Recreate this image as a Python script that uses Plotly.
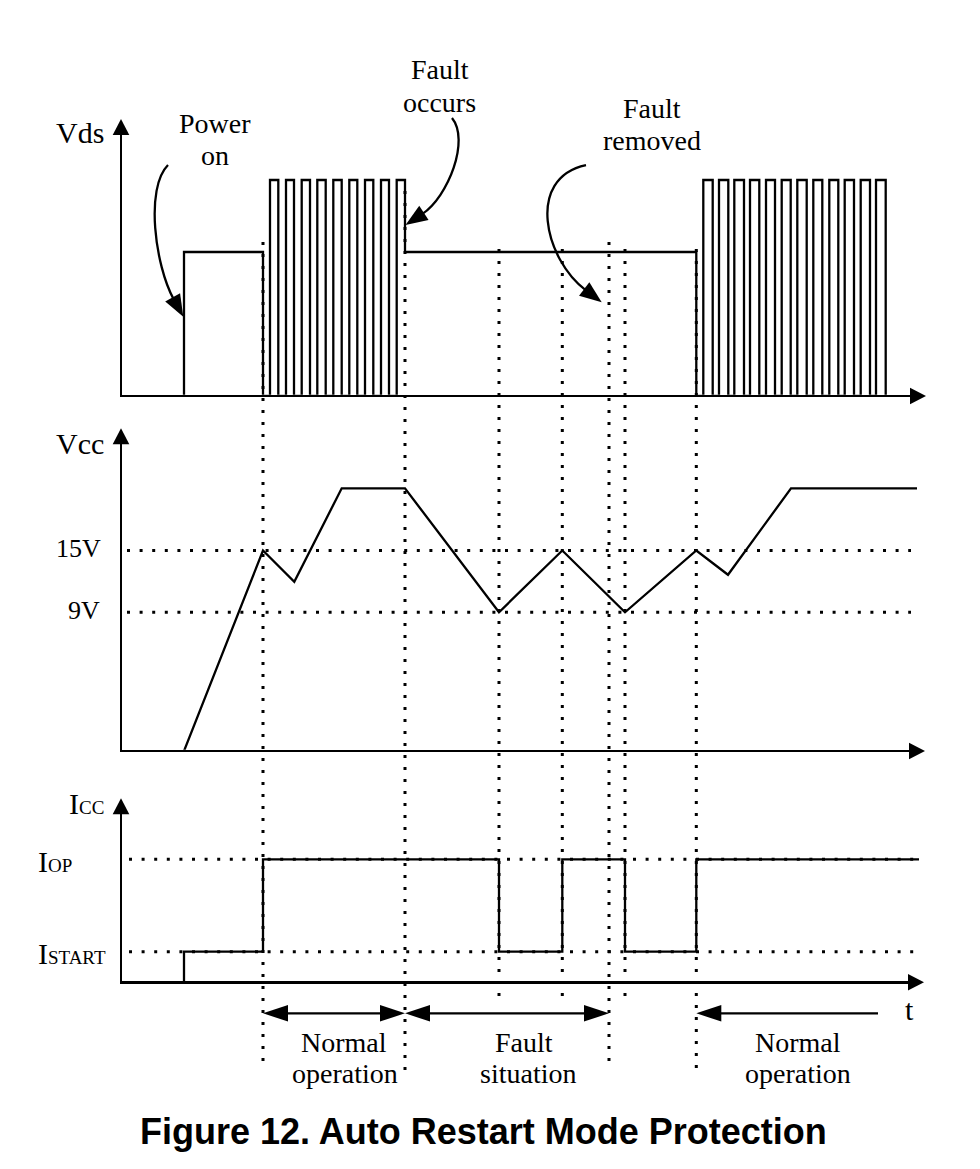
import plotly.graph_objects as go

FIG_W, FIG_H = 980, 1169

# ------------------------------------------------------------------ data
# time in diagram units (0 = origin of the t axis)
POWER_ON_T = 63.0
SWITCH_ON_T = 142.0       # Vcc reaches 15 V -> switching starts
FAULT_T = 284.0           # fault occurs
VCC_LOW1_T = 378.0
VCC_HIGH1_T = 441.3
FAULT_REMOVED_T = 488.0
VCC_LOW2_T = 504.0
RESTART_T = 575.3

# Vds (relative levels)
VDS_LOW, VDS_DC, VDS_PEAK = 0.0, 1.0, 1.5
burst1_rise = [149.0, 165.0, 180.7, 196.3, 212.3, 228.3, 244.0, 260.0, 275.7]
burst1_fall = [157.3, 173.0, 189.0, 204.7, 220.7, 236.3, 252.3, 268.0, 284.0]
burst2_rise = [582.3, 598.0, 613.3, 629.0, 645.0, 660.7, 676.3, 692.3, 708.3, 723.7, 739.7, 755.0]
burst2_fall = [591.7, 607.3, 623.0, 638.3, 654.0, 669.7, 685.7, 701.3, 717.3, 733.0, 749.0, 764.7]

# Vcc (relative to the 15 V level)
VCC_15V, VCC_9V = 1.0, 0.692
vcc_t = [63.0, 142.0, 173.3, 220.7, 284.0, 378.0, 441.3, 504.0, 575.3, 607.0, 670.0, 796.0]
vcc_v = [0.0, 1.0, 0.844, 1.31, 1.31, 0.692, 1.0, 0.692, 1.0, 0.879, 1.31, 1.31]
vcc_ref_levels = [VCC_15V, VCC_9V]
vcc_ref_labels = ["15V", "9V"]

# Icc (relative to Iop)
ICC_OP, ICC_START = 1.0, 0.249
icc_t = [63.0, 63.0, 142.0, 378.0, 441.3, 504.0, 575.3, 804.0]
icc_v = [0.0, ICC_START, ICC_OP, ICC_START, ICC_OP, ICC_START, ICC_OP, ICC_OP]
icc_ref_levels = [ICC_OP, ICC_START]
icc_ref_labels = ["I<span style='font-size:19px'>OP</span>",
                  "I<span style='font-size:19px'>START</span>"]

# vertical event markers
event_t = [142.0, 284.0, 378.0, 441.3, 488.0, 504.0, 575.3]

# operating phase spans along the time axis
span_start = [142.0, 284.0, 575.3]
span_end = [284.0, 488.0, 757.0]
span_heads = ["both", "both", "left"]
span_labels = [["Normal", "operation"], ["Fault", "situation"], ["Normal", "operation"]]

TITLE = "Figure 12. Auto Restart Mode Protection"

# ------------------------------------------------------------------ geometry (px)
AX_X = 121.0
LW = 2.4
TRACE_W = 2.3
panels = [
    dict(name="vds", base=396.0, top=119.0, ppu=144.0, tip=926.0),
    dict(name="vcc", base=751.0, top=428.3, ppu=200.5, tip=925.0),
    dict(name="icc", base=982.3, top=798.3, ppu=123.0, tip=924.0),
]
SERIF = "Liberation Serif, Times New Roman, serif"


def px(x):
    return x / FIG_W


def py(y):
    return 1 - y / FIG_H


def tri_path(tip, d, L, hw):
    bx, by = tip[0] - L * d[0], tip[1] - L * d[1]
    nx, ny = -d[1], d[0]
    c1 = (bx + hw * nx, by + hw * ny)
    c2 = (bx - hw * nx, by - hw * ny)
    pts = [tip, c1, c2]
    return "M" + " L".join(f"{px(a):.5f},{py(b):.5f}" for a, b in pts) + " Z"


def unit(dx, dy):
    n = (dx * dx + dy * dy) ** 0.5
    return dx / n, dy / n


fig = go.Figure()
shapes = []
annotations = []

# ------------------------------------------------------------------ axes
layout_axes = {}
for i, p in enumerate(panels, start=1):
    xs = "" if i == 1 else str(i)
    dom_right = p["tip"] - 5
    layout_axes[f"xaxis{xs}"] = dict(
        domain=[px(AX_X + LW / 2), px(dom_right)],
        range=[LW / 2, dom_right - AX_X],
        anchor=f"y{xs}", showline=True, linewidth=LW, linecolor="black",
        showgrid=False, zeroline=False, showticklabels=False, ticks="",
        fixedrange=True,
    )
    dom_top = p["top"] + 5
    layout_axes[f"yaxis{xs}"] = dict(
        domain=[py(p["base"] - LW / 2), py(dom_top)],
        range=[(LW / 2) / p["ppu"], (p["base"] - dom_top) / p["ppu"]],
        anchor=f"x{xs}", showline=True, linewidth=LW, linecolor="black",
        showgrid=False, zeroline=False, showticklabels=False, ticks="",
        fixedrange=True,
    )
    # arrow heads of the axes
    shapes.append(dict(type="path", xref="paper", yref="paper",
                       path=tri_path((AX_X, p["top"]), (0, -1), 16, 8.3),
                       fillcolor="black", line=dict(width=0)))
    shapes.append(dict(type="path", xref="paper", yref="paper",
                       path=tri_path((p["tip"], p["base"]), (1, 0), 16, 8.3),
                       fillcolor="black", line=dict(width=0)))

# ------------------------------------------------------------------ traces
# Vds
vds_t = [POWER_ON_T, POWER_ON_T, SWITCH_ON_T]
vds_v = [VDS_LOW, VDS_DC, VDS_LOW]
for r, f in zip(burst1_rise, burst1_fall):
    vds_t += [r, f]
    vds_v += [VDS_PEAK, VDS_LOW]
vds_v[-1] = VDS_DC          # fault: switching stops, drain sits at DC level
vds_t.append(RESTART_T)
vds_v.append(VDS_LOW)
for r, f in zip(burst2_rise, burst2_fall):
    vds_t += [r, f]
    vds_v += [VDS_PEAK, VDS_LOW]

fig.add_trace(go.Scatter(x=vds_t, y=vds_v, mode="lines", line_shape="hv",
                         line=dict(color="black", width=TRACE_W),
                         xaxis="x", yaxis="y", showlegend=False, hoverinfo="skip"))

# Vcc reference levels + trace
for lvl in vcc_ref_levels:
    fig.add_trace(go.Scatter(x=[6, 790], y=[lvl, lvl], mode="lines",
                             line=dict(color="black", width=3, dash="3px,9.6px"),
                             xaxis="x2", yaxis="y2", showlegend=False, hoverinfo="skip"))
fig.add_trace(go.Scatter(x=vcc_t, y=vcc_v, mode="lines",
                         line=dict(color="black", width=TRACE_W),
                         xaxis="x2", yaxis="y2", showlegend=False, hoverinfo="skip"))

# Icc reference levels + trace
for lvl in icc_ref_levels:
    fig.add_trace(go.Scatter(x=[8, 804], y=[lvl, lvl], mode="lines",
                             line=dict(color="black", width=3, dash="3px,9.6px"),
                             xaxis="x3", yaxis="y3", showlegend=False, hoverinfo="skip"))
fig.add_trace(go.Scatter(x=icc_t, y=icc_v, mode="lines", line_shape="hv",
                         line=dict(color="black", width=TRACE_W),
                         xaxis="x3", yaxis="y3", showlegend=False, hoverinfo="skip"))

# ------------------------------------------------------------------ event markers
marker_top = [242, 191, 249, 249, 242, 249, 249]
marker_bot = [1063, 1073, 1002, 1002, 1063, 1002, 1072]
for t, y0, y1 in zip(event_t, marker_top, marker_bot):
    shapes.append(dict(type="line", xref="x", yref="paper", x0=t, x1=t,
                       y0=py(y0), y1=py(y1),
                       line=dict(color="black", width=3, dash="3px,9px")))

# ------------------------------------------------------------------ phase spans
SPAN_Y = 1013.3
for s, e, heads in zip(span_start, span_end, span_heads):
    xs_px, xe_px = AX_X + s, AX_X + e
    shapes.append(dict(type="line", xref="paper", yref="paper",
                       x0=px(xs_px + 10), x1=px(xe_px - (10 if heads == "both" else 0)),
                       y0=py(SPAN_Y), y1=py(SPAN_Y),
                       line=dict(color="black", width=TRACE_W)))
    shapes.append(dict(type="path", xref="paper", yref="paper",
                       path=tri_path((xs_px, SPAN_Y), (-1, 0), 25, 8.3),
                       fillcolor="black", line=dict(width=0)))
    if heads == "both":
        shapes.append(dict(type="path", xref="paper", yref="paper",
                           path=tri_path((xe_px, SPAN_Y), (1, 0), 25, 8.3),
                           fillcolor="black", line=dict(width=0)))

span_text_x = [[344.0, 345.0], [524.0, 527.5], [797.5, 798.0]]
for (l1, l2), (x1, x2) in zip(span_labels, span_text_x):
    annotations.append(dict(text=l1, x=px(x1), y=py(1042.2)))
    annotations.append(dict(text=l2, x=px(x2), y=py(1073.8)))

# ------------------------------------------------------------------ callouts
callouts = [
    # (start, c1, c2, tip, head_dir)
    ((168.0, 165.0), (145.0, 188.0), (155.0, 265.0), (183.3, 316.7), unit(16.6, 30.0)),
    ((452.0, 118.0), (470.0, 140.0), (448.5, 196.5), (405.5, 225.0), unit(-0.836, 0.548)),
    ((586.0, 165.0), (525.0, 178.0), (545.0, 260.0), (601.7, 302.3), unit(0.796, 0.606)),
]
HEAD_L, HEAD_HW = 22.0, 8.5
for p0, c1, c2, tip, d in callouts:
    base = (tip[0] - HEAD_L * d[0] * 0.9, tip[1] - HEAD_L * d[1] * 0.9)
    path = (f"M{px(p0[0]):.5f},{py(p0[1]):.5f} C{px(c1[0]):.5f},{py(c1[1]):.5f} "
            f"{px(c2[0]):.5f},{py(c2[1]):.5f} {px(base[0]):.5f},{py(base[1]):.5f}")
    shapes.append(dict(type="path", xref="paper", yref="paper", path=path,
                       line=dict(color="black", width=TRACE_W), fillcolor="rgba(0,0,0,0)"))
    shapes.append(dict(type="path", xref="paper", yref="paper",
                       path=tri_path(tip, d, HEAD_L, HEAD_HW),
                       fillcolor="black", line=dict(width=0)))

callout_text = [("Power", 215.0, 123.2), ("on", 215.0, 155.5),
                ("Fault", 440.0, 69.8), ("occurs", 439.0, 102.2),
                ("Fault", 651.7, 108.8), ("removed", 651.7, 140.5)]
for txt, x, y in callout_text:
    annotations.append(dict(text=txt, x=px(x), y=py(y)))

# defaults for the serif texts so far
for a in annotations:
    a.update(xref="paper", yref="paper", xanchor="center", yanchor="middle",
             showarrow=False, font=dict(family=SERIF, size=28, color="black"))

# ------------------------------------------------------------------ axis labels
axis_labels = [("V<span>ds</span>", 132.5), ("V<span>cc</span>", 443.1),
               ("I<span style='font-size:19px'>CC</span>", 803.1)]
for txt, y in axis_labels:
    annotations.append(dict(text=txt, xref="paper", yref="paper", x=px(105.5), y=py(y),
                            xanchor="right", yanchor="middle", showarrow=False,
                            font=dict(family=SERIF, size=30, color="black")))

vcc_label_right = [103.3, 101.7]
for lvl, lab, xr in zip(vcc_ref_levels, vcc_ref_labels, vcc_label_right):
    annotations.append(dict(text=lab, xref="paper", yref="y2", x=px(xr), y=lvl,
                            yshift=2, xanchor="right", yanchor="middle", showarrow=False,
                            font=dict(family=SERIF, size=26, color="black")))

for lvl, lab in zip(icc_ref_levels, icc_ref_labels):
    annotations.append(dict(text=lab, xref="paper", yref="y3", x=px(35.5), y=lvl,
                            yshift=-2, xanchor="left", yanchor="middle", showarrow=False,
                            font=dict(family=SERIF, size=30, color="black")))

annotations.append(dict(text="t", xref="paper", yref="paper", x=px(909), y=py(1009.8),
                        xanchor="center", yanchor="middle", showarrow=False,
                        font=dict(family=SERIF, size=30, color="black")))

annotations.append(dict(text=f"<b>{TITLE}</b>", xref="paper", yref="paper",
                        x=px(483.5), y=py(1131), xanchor="center", yanchor="middle",
                        showarrow=False,
                        font=dict(family="Liberation Sans, Arial, sans-serif", size=36,
                                  color="black")))

fig.update_layout(
    width=FIG_W, height=FIG_H, autosize=False,
    margin=dict(l=0, r=0, t=0, b=0, pad=0),
    paper_bgcolor="white", plot_bgcolor="rgba(0,0,0,0)",
    showlegend=False, shapes=shapes, annotations=annotations,
    **layout_axes,
)

fig.write_html("out.html", config={"displayModeBar": False, "staticPlot": True},
               post_script="document.body.style.margin='0';")
